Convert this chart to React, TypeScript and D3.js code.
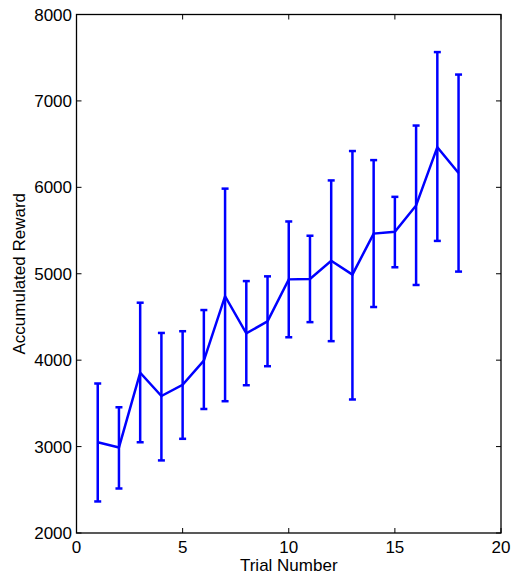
import React from "react";
import * as d3 from "d3";

const trials = [1, 2, 3, 4, 5, 6, 7, 8, 9, 10, 11, 12, 13, 14, 15, 16, 17, 18];
const meanReward = [3050, 2990, 3855, 3585, 3715, 3995, 4740, 4310, 4450, 4935, 4940, 5150, 4990, 5465, 5485, 5790, 6465, 6165];
const upperReward = [3730, 3455, 4665, 4315, 4335, 4580, 5985, 4915, 4970, 5605, 5440, 6080, 6420, 6315, 5890, 6715, 7565, 7305];
const lowerReward = [2365, 2515, 3050, 2840, 3090, 3435, 3525, 3710, 3930, 4265, 4440, 4220, 3545, 4615, 5075, 4870, 5380, 5025];
const xTicks = [0, 5, 10, 15, 20];
const yTicks = [2000, 3000, 4000, 5000, 6000, 7000, 8000];

const W = 514;
const H = 579;
const left = 76.5;
const right = 501;
const top = 14.5;
const bottom = 533;

export default function App() {
  const x = d3.scaleLinear().domain([0, 20]).range([left, right]);
  const y = d3.scaleLinear().domain([2000, 8000]).range([bottom, top]);
  const pts = trials.map((t, i) => ({ t, m: meanReward[i], hi: upperReward[i], lo: lowerReward[i] }));
  const line = d3
    .line<{ t: number; m: number }>()
    .x((d) => x(d.t))
    .y((d) => y(d.m));
  const blue = "#0000ff";
  const cap = 3.5;
  const tickLen = 5;
  const font = "'Liberation Sans', Arial, Helvetica, sans-serif";
  const fs = 17;

  return (
    <div style={{ position: "fixed", left: 0, top: 0 }}>
      <svg width={W} height={H} style={{ display: "block", background: "#fff" }}>
        <rect x={0} y={0} width={W} height={H} fill="#fff" />
        {/* error bars */}
        {pts.map((d) => (
          <g key={d.t} stroke={blue} strokeWidth={2.5} fill="none">
            <line x1={x(d.t)} x2={x(d.t)} y1={y(d.hi)} y2={y(d.lo)} />
            <line x1={x(d.t) - cap} x2={x(d.t) + cap} y1={y(d.hi)} y2={y(d.hi)} />
            <line x1={x(d.t) - cap} x2={x(d.t) + cap} y1={y(d.lo)} y2={y(d.lo)} />
          </g>
        ))}
        <path d={line(pts) || ""} stroke={blue} strokeWidth={2.5} fill="none" strokeLinejoin="miter" />
        {/* axes box */}
        <rect x={left} y={top} width={right - left} height={bottom - top} fill="none" stroke="#000" strokeWidth={1.3} />
        {xTicks.map((v) => (
          <g key={"x" + v}>
            <line x1={x(v)} x2={x(v)} y1={bottom} y2={bottom - tickLen} stroke="#000" />
            <line x1={x(v)} x2={x(v)} y1={top} y2={top + tickLen} stroke="#000" />
            <text x={x(v)} y={553} textAnchor="middle" fontFamily={font} fontSize={fs} fill="#000">
              {v}
            </text>
          </g>
        ))}
        {yTicks.map((v) => (
          <g key={"y" + v}>
            <line x1={left} x2={left + tickLen} y1={y(v)} y2={y(v)} stroke="#000" />
            <line x1={right} x2={right - tickLen} y1={y(v)} y2={y(v)} stroke="#000" />
            <text x={72} y={y(v) + 6} textAnchor="end" fontFamily={font} fontSize={fs} fill="#000">
              {v}
            </text>
          </g>
        ))}
        <text x={(left + right) / 2} y={571} textAnchor="middle" fontFamily={font} fontSize={fs} fill="#000">
          Trial Number
        </text>
        <text
          transform={`translate(25, ${(top + bottom) / 2}) rotate(-90)`}
          textAnchor="middle"
          fontFamily={font}
          fontSize={fs}
          fill="#000"
        >
          Accumulated Reward
        </text>
      </svg>
    </div>
  );
}
